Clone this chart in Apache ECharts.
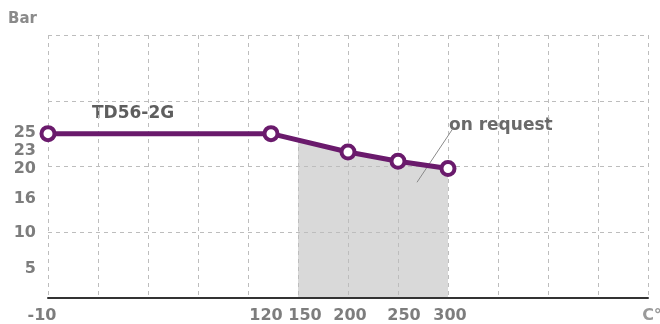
<!DOCTYPE html>
<html><head><meta charset="utf-8">
<script src="https://cdn.jsdelivr.net/npm/echarts@6/dist/echarts.min.js"></script>
<style>html,body{margin:0;padding:0;background:#fff}#c{width:660px;height:324px}</style>
</head><body><div id="c"></div>
<script>
// ---- data ----
const temps = [-10, 120, 200, 250, 300];
const pressure = [25, 25, 22.2, 20.8, 19.7];
const areaTemps = [150, 200, 250, 300];
const areaTop = [24, 22.2, 20.8, 19.7];
const xTickTemps = [-10, 120, 150, 200, 250, 300];
const xTickLabels = ['-10', '120', '150', '200', '250', '300'];
const xUnit = 'C°';
const yTickValues = [5, 10, 16, 20, 23, 25];
const yUnit = 'Bar';
const seriesName = 'TD56-2G';
const noteText = 'on request';

// ---- broken temperature scale used by the x axis ----
const knotT = [-10, 120, 150];
const knotP = [0, 223, 250];
function pos(t) {
  if (t >= 150) return 250 + (t - 150);
  for (let i = 0; i < knotT.length - 1; i++) {
    if (t <= knotT[i + 1]) {
      return knotP[i] + (t - knotT[i]) * (knotP[i + 1] - knotP[i]) / (knotT[i + 1] - knotT[i]);
    }
  }
}
const unitPos = 600;
const labelPos = xTickTemps.map(pos).concat([unitPos]);
const labelText = xTickLabels.concat([xUnit]);
// layout: small pixel nudges of the labels, as in the reference
const labelShift = [-6, -5, 7, 2, 6, 2, 4];
const yLabelShift = [4, 1, 6, 2, 4, -1];

const purple = '#6a1a6c';
const gridLine = { color: '#bdbdbd', type: [4, 4], width: 1 };
const yBase = { fontFamily: 'DejaVu Sans', fontWeight: 'bold', fontSize: 16, color: '#7d7d7d' };
const yRich = {};
yTickValues.forEach((v, i) => {
  const s = yLabelShift[i];
  yRich['y' + i] = Object.assign({ padding: s >= 0 ? [2 * s, 0, 0, 0] : [0, 0, -2 * s, 0] }, yBase);
});
function yLabelAxis(parity) {
  return {
    customValues: yTickValues.filter((v, i) => i % 2 === parity),
    margin: 12, hideOverlap: false,
    formatter: function (v) {
      const i = yTickValues.indexOf(v);
      return i < 0 ? '' : '{y' + i + '|' + v + '}';
    },
    rich: yRich
  };
}

const chart = echarts.init(document.getElementById('c'));
chart.setOption({
  animation: false,
  grid: { left: 48, right: 12, top: 35, bottom: 26, outerBoundsMode: 'none', containLabel: false },
  xAxis: {
    type: 'value', min: 0, max: 600, interval: 50,
    axisLine: { show: true, lineStyle: { color: '#333', width: 2 } },
    axisTick: { show: false },
    splitLine: { show: true, lineStyle: gridLine },
    axisLabel: {
      customValues: labelPos,
      hideOverlap: false,
      margin: 10,
      formatter: function (v) {
        let i = labelPos.findIndex(p => Math.abs(p - v) < 0.01);
        if (i < 0) return '';
        const s = labelShift[i];
        const st = s >= 0 ? 'r' + i : 'l' + i;
        return '{' + st + '|' + labelText[i] + '}';
      },
      rich: (function () {
        const r = {};
        labelText.forEach((t, i) => {
          const s = labelShift[i];
          const base = { fontFamily: 'DejaVu Sans', fontWeight: 'bold', fontSize: 16, color: i === labelText.length - 1 ? '#9a9a9a' : '#7d7d7d' };
          if (s >= 0) r['r' + i] = Object.assign({ padding: [0, 0, 0, 2 * s] }, base);
          else r['l' + i] = Object.assign({ padding: [0, -2 * s, 0, 0] }, base);
        });
        return r;
      })()
    }
  },
  yAxis: [
    {
      type: 'value', min: 0, max: 40, interval: 10, position: 'left',
      name: yUnit, nameLocation: 'end', nameGap: 8,
      nameTextStyle: { fontFamily: 'DejaVu Sans', fontWeight: 'bold', fontSize: 15, color: '#8a8a8a', align: 'right', padding: [0, 11, 0, 0] },
      axisLine: { show: false },
      axisTick: { show: false },
      splitLine: { show: true, lineStyle: gridLine },
      axisLabel: yLabelAxis(0)
    },
    {
      type: 'value', min: 0, max: 40, interval: 10, position: 'left', offset: 0,
      axisLine: { show: false },
      axisTick: { show: false },
      splitLine: { show: false },
      axisLabel: yLabelAxis(1)
    }
  ],
  series: [
    {
      type: 'line', z: -1, silent: true,
      data: areaTemps.map((t, i) => [pos(t), areaTop[i]]),
      symbol: 'none',
      lineStyle: { width: 0 },
      areaStyle: { color: '#d9d9d9', opacity: 1 },
      markLine: {
        silent: true, symbol: 'none',
        lineStyle: { color: '#8a8a8a', width: 1, type: 'solid' },
        label: { show: false },
        data: [[{ coord: [pos(269), 17.6] }, { coord: [pos(305), 25.8] }]]
      }
    },
    {
      type: 'line', name: seriesName,
      data: temps.map((t, i) => [pos(t), pressure[i]]),
      symbol: 'circle', symbolSize: 13,
      lineStyle: { color: purple, width: 5 },
      itemStyle: { color: '#fff', borderColor: purple, borderWidth: 4 },
      z: 5
    }
  ],
  graphic: [
    { type: 'text', left: 92, top: 105, style: { text: seriesName, fontFamily: 'DejaVu Sans', fontWeight: 'bold', fontSize: 17, fill: '#5e5e5e' } },
    { type: 'text', left: 449, top: 117, style: { text: noteText, fontFamily: 'DejaVu Sans', fontWeight: 'bold', fontSize: 17, fill: '#6a6a6a' } }
  ]
});
</script></body></html>
